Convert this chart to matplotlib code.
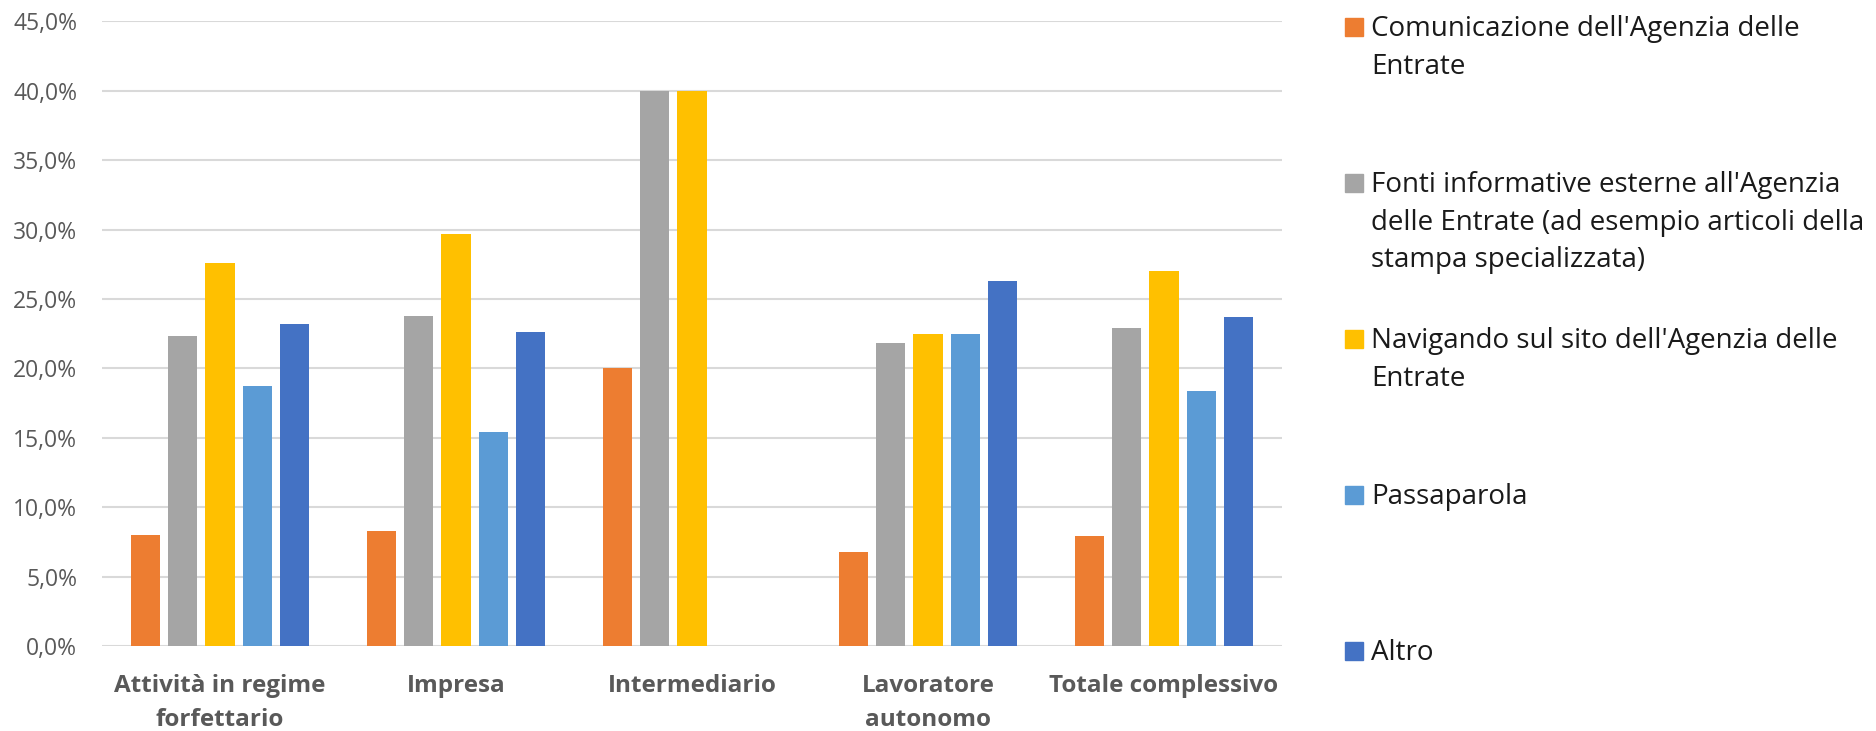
import matplotlib
matplotlib.use("Agg")
import matplotlib.pyplot as plt
import numpy as np
from matplotlib.patches import Rectangle
from matplotlib.ticker import FuncFormatter

plt.rcParams["font.family"] = ["Open Sans", "DejaVu Sans"]

categories = ["Attività in regime\nforfettario", "Impresa", "Intermediario",
              "Lavoratore\nautonomo", "Totale complessivo"]
series = ["Comunicazione dell'Agenzia delle\nEntrate",
          "Fonti informative esterne all'Agenzia\ndelle Entrate (ad esempio articoli della\nstampa specializzata)",
          "Navigando sul sito dell'Agenzia delle\nEntrate",
          "Passaparola",
          "Altro"]
comunicazione = [8.0, 8.3, 20.0, 6.75, 7.9]
fonti = [22.3, 23.8, 40.0, 21.8, 22.9]
navigando = [27.6, 29.7, 40.0, 22.5, 27.0]
passaparola = [18.7, 15.4, 0.0, 22.5, 18.4]
altro = [23.2, 22.6, 0.0, 26.3, 23.7]
values = [comunicazione, fonti, navigando, passaparola, altro]
colors = ["#ED7D31", "#A5A5A5", "#FFC000", "#5B9BD5", "#4472C4"]

W, H = 1876, 731
fig = plt.figure(figsize=(W / 100, H / 100), dpi=100)
ax = fig.add_axes([102 / W, 1 - 646 / H, (1282 - 102) / W, (646 - 21.4) / H])

x = np.arange(len(categories))
pitch = 0.157
width = 0.123
for i, (vals, col) in enumerate(zip(values, colors)):
    ax.bar(x + (i - 2) * pitch, np.array(vals) / 100, width, color=col, zorder=3)

ax.set_xlim(-0.5, len(categories) - 0.5)
ax.set_ylim(0, 0.45)
ax.set_yticks(np.arange(0, 0.451, 0.05))
ax.yaxis.set_major_formatter(FuncFormatter(lambda v, p: f"{v * 100:.1f}%".replace(".", ",")))
ax.grid(axis="y", color="#D9D9D9", lw=1.5, zorder=0)
for s in ax.spines.values():
    s.set_visible(False)
ax.tick_params(axis="both", length=0)
ax.tick_params(axis="y", labelsize=16.5, labelcolor="#595959", pad=18)
ax.set_xticks(x)
ax.set_xticklabels(categories, fontsize=17.5, fontweight="bold", color="#595959", linespacing=1.57)
ax.tick_params(axis="x", pad=20)

# legend drawn by hand to keep the marker on the first line
for i, (lab, col) in enumerate(zip(series, colors)):
    yc = 27 + 156 * i
    fig.patches.append(Rectangle((1345 / W, 1 - (yc + 9) / H), 18 / W, 18 / H,
                                 transform=fig.transFigure, color=col))
    fig.text(1371 / W, 1 - (yc - 12) / H, lab, fontsize=20, color="#1a1a1a",
             va="top", ha="left", linespacing=1.46)

fig.savefig("out.png", dpi=100, facecolor="white")
